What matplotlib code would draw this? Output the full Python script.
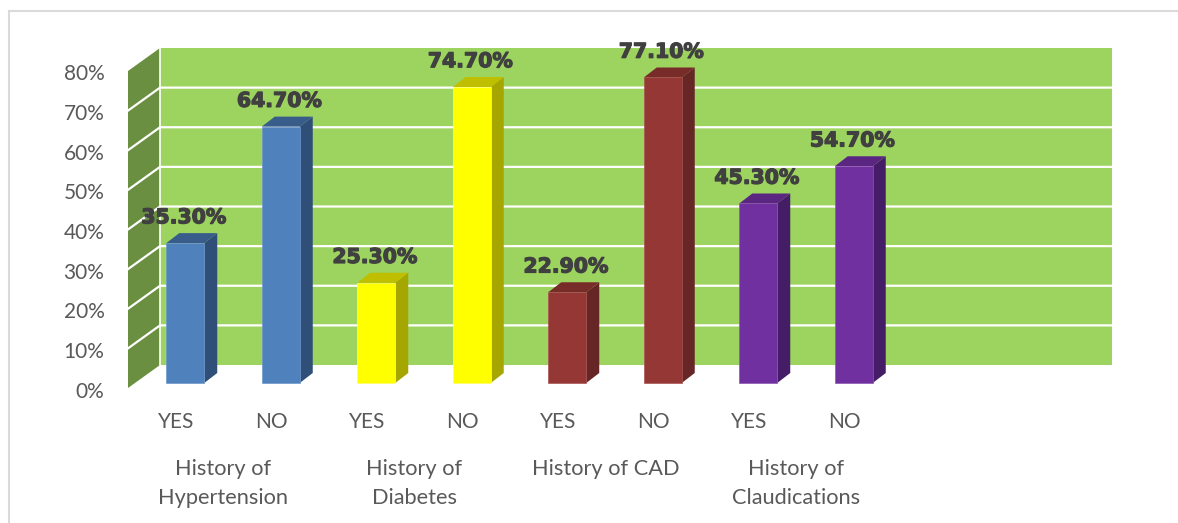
import matplotlib
matplotlib.use('Agg')
import matplotlib.pyplot as plt
import matplotlib.patheffects as pe
from matplotlib.patches import Polygon
from matplotlib.transforms import ScaledTranslation
import numpy as np

answers = ['YES', 'NO', 'YES', 'NO', 'YES', 'NO', 'YES', 'NO']
values = [35.3, 64.7, 25.3, 74.7, 22.9, 77.1, 45.3, 54.7]
groups = ['History of\nHypertension', 'History of\nDiabetes', 'History of CAD', 'History of\nClaudications']
y_ticks = [0, 10, 20, 30, 40, 50, 60, 70, 80]

# front, side, top, edge colour for each pair of bars
front_colors = ['#4F81BD', '#FFFF00', '#953735', '#7030A0']
side_colors = ['#2F4F78', '#A6A600', '#662625', '#451D66']
top_colors = ['#385D8A', '#BFBF00', '#772C2A', '#5A2682']
edge_colors = ['#6F98CC', '#FFFF66', '#A85452', '#8A58B2']

W, H = 1178, 523
plt.rcParams['font.family'] = ['Lato', 'DejaVu Sans']
TEXT = '#595959'

fig = plt.figure(figsize=(W / 100, H / 100), dpi=100)
# chart frame, only the top and left sides are visible
fig.add_artist(plt.Line2D([8.5 / W, 8.5 / W, 1 ], [0, 1 - 10.5 / H, 1 - 10.5 / H],
                          color='#DADADA', lw=1.5, solid_joinstyle='miter'))

# axes is the front plane of the 3d box
left, right, bottom, top = 128, 1083, 388, 71
ax = fig.add_axes([left / W, 1 - bottom / H, (right - left) / W, (bottom - top) / H])
ax.set_xlim(-0.5, 9.5)
ax.set_ylim(0, 80)
ax.patch.set_visible(False)
for s in ax.spines.values():
    s.set_visible(False)

# data units per pixel
ux = 10 / (right - left)
uy = 80 / (bottom - top)
wall_dx, wall_dy = 32 * ux, 23 * uy
bar_dx, bar_dy = 9.5 * ux, 5 * uy
depth_dx, depth_dy = 13 * ux, 10 * uy
bar_w = 38 * ux

x0, x1 = -0.5, 9.5 - 3 * ux
# back wall and side wall
ax.add_patch(Polygon([(x0 + wall_dx, wall_dy), (x1 + wall_dx, wall_dy), (x1 + wall_dx, 80 + wall_dy),
                      (x0 + wall_dx, 80 + wall_dy)], closed=True, facecolor='#9DD35F', edgecolor='none',
                     zorder=1, clip_on=False))
ax.add_patch(Polygon([(x0, 0), (x0 + wall_dx, wall_dy), (x0 + wall_dx, 80 + wall_dy), (x0, 80)], closed=True,
                     facecolor='#6A8F40', edgecolor='none', zorder=1, clip_on=False))
for v in y_ticks[1:-1]:
    ax.plot([x0, x0 + wall_dx, x1 + wall_dx], [v, v + wall_dy, v + wall_dy], color='white', lw=1.6,
            zorder=2, clip_on=False, solid_joinstyle='miter')
ax.plot([x0 + wall_dx, x0 + wall_dx], [wall_dy, 80 + wall_dy], color='white', lw=1.2, zorder=2, clip_on=False)

# bars
for i, v in enumerate(values):
    c = i // 2
    xl = i + bar_dx - bar_w / 2
    xr = xl + bar_w
    yb = bar_dy
    yt = v + bar_dy
    ax.add_patch(Polygon([(xr, yb), (xr + depth_dx, yb + depth_dy), (xr + depth_dx, yt + depth_dy), (xr, yt)],
                         closed=True, facecolor=side_colors[c], edgecolor='none', zorder=3, clip_on=False))
    ax.add_patch(Polygon([(xl, yt), (xr, yt), (xr + depth_dx, yt + depth_dy), (xl + depth_dx, yt + depth_dy)],
                         closed=True, facecolor=top_colors[c], edgecolor='none', zorder=3, clip_on=False))
    ax.bar(xl, v, width=bar_w, bottom=yb, align='edge', color=front_colors[c], edgecolor=edge_colors[c],
           linewidth=0.5, zorder=4, clip_on=False)
    ax.annotate(f'{v:.2f}%', (i + bar_dx, yt + depth_dy), xytext=(-1, 11), textcoords='offset points',
                ha='center', va='center', fontsize=14.7, fontweight='bold', family='DejaVu Sans',
                color='#404040', zorder=6, annotation_clip=False,
                path_effects=[pe.withStroke(linewidth=0.9, foreground='#404040')])

ax.set_xticks(range(len(answers)), answers)
ax.set_yticks(y_ticks, [f'{v}%' for v in y_ticks])
ax.tick_params(axis='x', length=0, pad=17.5, labelsize=15, labelcolor=TEXT)
ax.tick_params(axis='y', length=0, pad=17, labelsize=15, labelcolor=TEXT)
# y labels sit a little under their gridline level
shift = ScaledTranslation(0, -1.5 / 100, fig.dpi_scale_trans)
for lab in ax.get_yticklabels():
    lab.set_transform(lab.get_transform() + shift)

# group labels under each YES/NO pair
for g, name in enumerate(groups):
    ax.annotate(name, (2 * g + 0.5, 0), xytext=(0, -51), textcoords='offset points', ha='center', va='top',
                fontsize=15.7, color=TEXT, linespacing=1.56, annotation_clip=False)

fig.savefig('out.png', dpi=100)
plt.close(fig)
